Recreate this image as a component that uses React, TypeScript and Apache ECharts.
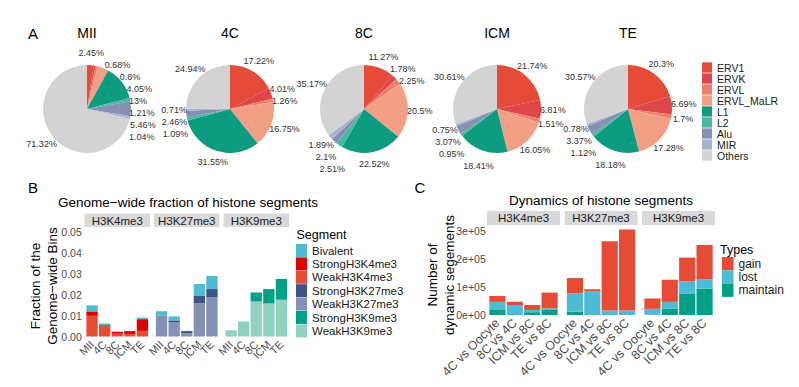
import React, { useEffect, useRef } from 'react';
import * as echarts from 'echarts';

const FONT = '"Liberation Sans", Arial, Helvetica, sans-serif';

// ---------- Panel A : repeat composition pies ----------
const pieStages = ['MII', '4C', '8C', 'ICM', 'TE'];
const repeatClasses = ['ERV1', 'ERVK', 'ERVL', 'ERVL_MaLR', 'L1', 'L2', 'Alu', 'MIR', 'Others'];
const pieMII = [2.45, 0.68, 0.8, 4.05, 13, 1.21, 5.46, 1.04, 71.32];
const pie4C = [17.22, 4.01, 1.26, 16.75, 31.55, 1.09, 2.46, 0.71, 24.94];
const pie8C = [11.27, 1.78, 2.25, 20.5, 22.52, 2.51, 2.1, 1.89, 35.17];
const pieICM = [21.74, 6.81, 1.51, 16.05, 18.41, 0.95, 3.07, 0.75, 30.61];
const pieTE = [20.3, 6.69, 1.7, 17.28, 18.18, 1.12, 3.37, 0.78, 30.57];
const pieValues = [pieMII, pie4C, pie8C, pieICM, pieTE];
const repeatColors = ['#E54B38', '#DE4649', '#EC806C', '#F39F85', '#0E9C80', '#4AB89F', '#8590B3', '#A9B2D2', '#D3D3D3'];

// ---------- Panel B : genome-wide fraction ----------
const marks = ['H3K4me3', 'H3K27me3', 'H3K9me3'];
const stagesB = ['MII', '4C', '8C', 'ICM', 'TE'];
const segmentNames = ['Bivalent', 'StrongH3K4me3', 'WeakH3K4me3', 'StrongH3K27me3', 'WeakH3K27me3', 'StrongH3K9me3', 'WeakH3K9me3'];
const segmentColors = ['#4DBBD5', '#DC0000', '#E64B35', '#3C5488', '#8491B4', '#00A087', '#91D1C2'];
// H3K4me3 facet
const weakK4 = [0.0099, 0.0048, 0.0013, 0.0011, 0.0027];
const strongK4 = [0.0021, 0.0006, 0.0009, 0.0015, 0.0056];
const bivalentK4 = [0.0029, 0.0008, 0.0002, 0.0001, 0.0007];
// H3K27me3 facet
const weakK27 = [0.0098, 0.0067, 0.0016, 0.016, 0.0187];
const strongK27 = [0.0002, 0.001, 0.001, 0.0034, 0.004];
const bivalentK27 = [0.0021, 0.0019, 0.0001, 0.0057, 0.0063];
// H3K9me3 facet
const weakK9 = [0.003, 0.007, 0.0168, 0.0158, 0.0176];
const strongK9 = [0, 0.0001, 0.0043, 0.0069, 0.0099];
const bivalentK9 = [0, 0, 0, 0, 0];
const yMaxB = 0.05;
const yStepB = 0.01;

// ---------- Panel C : dynamics ----------
const comparisons = ['4C vs Oocyte', '8C vs 4C', 'ICM vs 8C', 'TE vs 8C'];
const typeNames = ['gain', 'lost', 'maintain'];
const typeColors = ['#E64B35', '#4DBBD5', '#00A087'];
const maintainK4 = [20000, 2500, 10000, 18000];
const lostK4 = [27000, 33500, 8000, 6000];
const gainK4 = [21000, 11000, 18000, 56000];
const maintainK27 = [12000, 2500, 2500, 2500];
const lostK27 = [65000, 82500, 13500, 13500];
const gainK27 = [55000, 7000, 247000, 289000];
const maintainK9 = [2000, 22000, 77000, 94000];
const lostK9 = [20000, 25000, 43000, 33000];
const gainK9 = [37000, 79000, 85000, 123000];
const yMaxC = 320000;
const yStepC = 100000;

// ---------- layout (positions only) ----------
const pieCX = [87, 230, 364, 497, 628];
const pieCY = 109;
const pieR = 44;
const pieLabelR = 1.27; // label centre distance, in radii

const panelBX = [84.5, 154, 223.5];
const panelBW = 65.5;
const gridBTop = 232;
const gridBH = 104.5;

const panelCX = [487, 564.5, 642];
const panelCW = 73;
const gridCTop = 225.4;
const gridCH = 89.6;

const AXIS_COL = '#4D4D4D';

function expFormat(v: number) {
  if (v === 0) return '0e+00';
  const e = Math.floor(Math.log10(Math.abs(v)));
  const m = Math.round(v / Math.pow(10, e));
  return `${m}e+${String(e).padStart(2, '0')}`;
}

export default function App() {
  const ref = useRef<HTMLDivElement>(null);

  useEffect(() => {
    if (!ref.current) return;
    const chart = echarts.init(ref.current, null, { renderer: 'svg' });

    const grid: any[] = [];
    const xAxis: any[] = [];
    const yAxis: any[] = [];
    const series: any[] = [];
    const graphic: any[] = [];

    const text = (x: number, y: number, t: string, size: number, extra: any = {}) => ({
      type: 'text',
      x,
      y,
      silent: true,
      ...(extra.rotation !== undefined ? { rotation: extra.rotation } : {}),
      style: {
        text: t,
        fontSize: size,
        fontFamily: FONT,
        fill: extra.fill || '#000',
        align: extra.align || 'center',
        verticalAlign: 'middle',
        lineHeight: extra.lineHeight,
      },
    });

    // Panel A
    pieValues.forEach((vals, i) => {
      series.push({
        type: 'pie',
        name: pieStages[i],
        center: [pieCX[i], pieCY],
        radius: pieR,
        startAngle: 90,
        clockwise: true,
        silent: true,
        avoidLabelOverlap: true,
        itemStyle: { borderWidth: 0 },
        label: {
          show: true,
          position: 'outside',
          formatter: (p: any) => `${p.value}%`,
          fontSize: 9,
          lineHeight: 10,
          fontFamily: FONT,
          color: '#333',
          distanceToLabelLine: 0,
        },
        labelLine: {
          show: true,
          length: pieR * (pieLabelR - 1),
          length2: 0,
          lineStyle: { opacity: 0, width: 0 },
        },
        labelLayout: (p: any) => {
          const pts = p.labelLinePoints;
          if (!pts || !pts.length) return {};
          const cx = pieCX[i];
          const cy = pieCY;
          const dx = (pts[0][0] - cx) / pieR;
          const side = dx < 0 ? -1 : 1;
          const ny = pts[pts.length - 1][1];
          const w = p.labelRect ? p.labelRect.width : 24;
          const h = p.labelRect ? p.labelRect.height : 10;
          let x = cx + pieR * pieLabelR * dx;
          const clear = pieR - 1;
          const dyNear = Math.max(0, Math.abs(ny - cy) - h / 2);
          if (dyNear < clear) {
            const xEdge = cx + side * (Math.sqrt(clear * clear - dyNear * dyNear) + w / 2 - 1);
            x = side > 0 ? Math.max(x, xEdge) : Math.min(x, xEdge);
          }
          return { x, y: ny, align: 'center', verticalAlign: 'middle' };
        },
        data: repeatClasses.map((n, j) => ({ name: n, value: vals[j], itemStyle: { color: repeatColors[j] } })),
      });
      graphic.push(text(pieCX[i], 33, pieStages[i], 14));
    });

    // Panel B
    const bStacks = [
      [weakK4, strongK4, bivalentK4],
      [weakK27, strongK27, bivalentK27],
      [weakK9, strongK9, bivalentK9],
    ];
    const bNames = [
      ['WeakH3K4me3', 'StrongH3K4me3', 'Bivalent'],
      ['WeakH3K27me3', 'StrongH3K27me3', 'Bivalent'],
      ['WeakH3K9me3', 'StrongH3K9me3', 'Bivalent'],
    ];
    marks.forEach((m, f) => {
      const band = panelBW / 5.2;
      const gi = grid.length;
      grid.push({
        left: panelBX[f] + 0.1 * band,
        top: gridBTop,
        width: band * 5,
        height: gridBH,
        containLabel: false,
        outerBoundsMode: 'none',
      });
      xAxis.push({
        type: 'category',
        gridIndex: gi,
        data: stagesB,
        axisLine: { show: false },
        axisTick: { show: false },
        splitLine: { show: false },
        axisLabel: { interval: 0, rotate: 45, margin: 6, fontSize: 11, color: AXIS_COL, fontFamily: FONT },
      });
      yAxis.push({
        type: 'value',
        gridIndex: gi,
        min: 0,
        max: yMaxB,
        interval: yStepB,
        axisLine: { show: false },
        axisTick: { show: false },
        splitLine: { show: false },
        axisLabel: {
          show: f === 0,
          margin: 4,
          fontSize: 10.5,
          color: AXIS_COL,
          fontFamily: FONT,
          formatter: (v: number) => v.toFixed(2),
        },
      });
      bStacks[f].forEach((vals, k) => {
        const name = bNames[f][k];
        series.push({
          type: 'bar',
          name,
          xAxisIndex: gi,
          yAxisIndex: gi,
          stack: 'B' + f,
          barWidth: '90%',
          silent: true,
          itemStyle: { color: segmentColors[segmentNames.indexOf(name)] },
          data: vals,
        });
      });
      graphic.push({
        type: 'rect',
        silent: true,
        shape: { x: panelBX[f], y: 213.5, width: panelBW, height: 13.5 },
        style: { fill: '#D9D9D9' },
      });
      graphic.push(text(panelBX[f] + panelBW / 2, 220.5, m, 11.5, { fill: '#1A1A1A' }));
    });

    // Panel C
    const cStacks = [
      [maintainK4, lostK4, gainK4],
      [maintainK27, lostK27, gainK27],
      [maintainK9, lostK9, gainK9],
    ];
    const cNames = ['maintain', 'lost', 'gain'];
    marks.forEach((m, f) => {
      const band = panelCW / 4.2;
      const gi = grid.length;
      grid.push({
        left: panelCX[f] + 0.1 * band,
        top: gridCTop,
        width: band * 4,
        height: gridCH,
        containLabel: false,
        outerBoundsMode: 'none',
      });
      xAxis.push({
        type: 'category',
        gridIndex: gi,
        data: comparisons,
        axisLine: { show: false },
        axisTick: { show: false },
        splitLine: { show: false },
        axisLabel: { interval: 0, rotate: 45, margin: 6, fontSize: 12.5, color: AXIS_COL, fontFamily: FONT },
      });
      yAxis.push({
        type: 'value',
        gridIndex: gi,
        min: 0,
        max: yMaxC,
        interval: yStepC,
        axisLine: { show: false },
        axisTick: { show: false },
        splitLine: { show: false },
        axisLabel: {
          show: f === 0,
          margin: 3,
          fontSize: 10.5,
          color: AXIS_COL,
          fontFamily: FONT,
          showMaxLabel: false,
          formatter: (v: number) => (v % yStepC === 0 ? expFormat(v) : ''),
        },
      });
      cStacks[f].forEach((vals, k) => {
        const name = cNames[k];
        series.push({
          type: 'bar',
          name,
          xAxisIndex: gi,
          yAxisIndex: gi,
          stack: 'C' + f,
          barWidth: '93%',
          silent: true,
          itemStyle: { color: typeColors[typeNames.indexOf(name)] },
          data: vals,
        });
      });
      graphic.push({
        type: 'rect',
        silent: true,
        shape: { x: panelCX[f], y: 211, width: panelCW, height: 14 },
        style: { fill: '#D9D9D9' },
      });
      graphic.push(text(panelCX[f] + panelCW / 2, 218, m, 11.5, { fill: '#1A1A1A' }));
    });

    // Titles & labels
    graphic.push(text(33, 33, 'A', 15));
    graphic.push(text(33, 187, 'B', 15));
    graphic.push(text(420, 187, 'C', 15));
    graphic.push(text(188, 202, 'Genome−wide fraction of histone segments', 13.5));
    graphic.push(text(601, 200, 'Dynamics of histone segments', 13.5));
    graphic.push(text(43.5, 286, 'Fraction of the\nGenome−wide Bins', 13.5, { rotation: Math.PI / 2, lineHeight: 17 }));
    graphic.push(text(441, 275, 'Number of\ndynamic segements', 13.5, { rotation: Math.PI / 2, lineHeight: 17 }));
    graphic.push(text(296.5, 235, 'Segment', 12.5, { align: 'left' }));
    graphic.push(text(720, 250, 'Types', 12.5, { align: 'left' }));

    const legendText = { fontFamily: FONT, color: '#1A1A1A' };

    chart.setOption({
      animation: false,
      backgroundColor: '#ffffff',
      grid,
      xAxis,
      yAxis,
      series,
      graphic,
      legend: [
        {
          orient: 'vertical',
          left: 702,
          top: 62,
          padding: 0,
          itemGap: 0,
          itemWidth: 10,
          itemHeight: 10.3,
          selectedMode: false,
          icon: 'rect',
          textStyle: { ...legendText, fontSize: 10.5, lineHeight: 10.3 },
          data: repeatClasses,
        },
        {
          orient: 'vertical',
          left: 296,
          top: 244,
          padding: 0,
          itemGap: 0.4,
          itemWidth: 11,
          itemHeight: 13,
          selectedMode: false,
          icon: 'rect',
          textStyle: { ...legendText, fontSize: 11.5, lineHeight: 13 },
          data: segmentNames,
        },
        {
          orient: 'vertical',
          left: 722,
          top: 257,
          padding: 0,
          itemGap: 0,
          itemWidth: 11.5,
          itemHeight: 13.3,
          selectedMode: false,
          icon: 'rect',
          textStyle: { ...legendText, fontSize: 12, lineHeight: 13.3 },
          data: typeNames,
        },
      ],
    });

    return () => {
      chart.dispose();
    };
  }, []);

  return (
    <div
      ref={ref}
      style={{ position: 'fixed', left: 0, top: 0, width: 799, height: 387, background: '#fff' }}
    />
  );
}
